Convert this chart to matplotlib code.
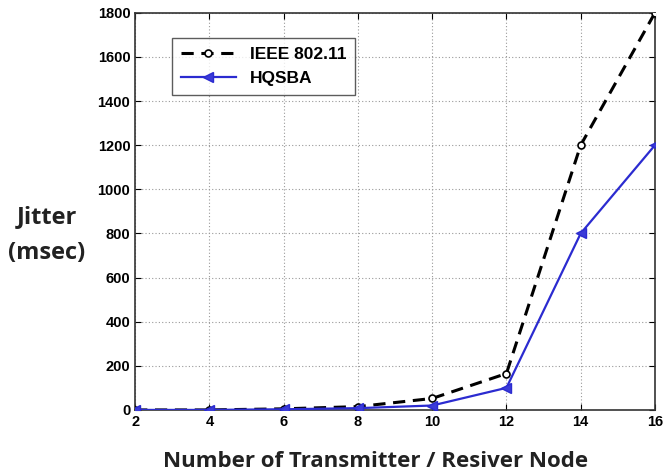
import matplotlib
matplotlib.use("Agg")
import matplotlib.pyplot as plt

nodes = [2, 4, 6, 8, 10, 12, 14, 16]
ieee = [0, 0, 5, 15, 52, 165, 1200, 1800]
hqsba = [0, 0, 3, 8, 20, 100, 800, 1200]
xticks = [2, 4, 6, 8, 10, 12, 14, 16]
yticks = list(range(0, 1801, 200))

fig = plt.figure(figsize=(6.69, 4.75), dpi=100)
ax = fig.add_axes([0.202, 0.137, 0.777, 0.836])

ax.plot(nodes, ieee, color="black", linestyle=(0, (4, 2.5)), linewidth=2.2,
        marker="o", markersize=5, markerfacecolor="white", markeredgecolor="black",
        markeredgewidth=1.2, label="IEEE 802.11", zorder=3)
ax.plot(nodes, hqsba, color="#2b2bd0", linestyle="-", linewidth=1.6,
        marker="<", markersize=7, markerfacecolor="#3b3bd8", markeredgecolor="#2b2bd0",
        label="HQSBA", zorder=3)

ax.set_xlim(2, 16)
ax.set_ylim(0, 1800)
ax.set_xticks(xticks)
ax.set_yticks(yticks)
ax.grid(True, linestyle=(0, (1, 2)), color="#999999", linewidth=0.8)
ax.tick_params(direction="in", length=4, labelsize=10.5, top=True, right=True)
for lab in ax.get_xticklabels() + ax.get_yticklabels():
    lab.set_fontfamily("Liberation Sans")
    lab.set_fontweight("bold")
for s in ax.spines.values():
    s.set_linewidth(1.2)
    s.set_color("#333333")

fig.text(0.561, 0.028, "Number of Transmitter / Resiver Node", ha="center", va="center",
         fontsize=16, fontfamily="Open Sans", fontweight="bold", color="#222222")
fig.text(0.07, 0.505, "Jitter\n(msec)", ha="center", va="center", fontsize=17,
         fontfamily="Open Sans", fontweight="bold", color="#222222", linespacing=1.65)

leg = ax.legend(loc="upper left", bbox_to_anchor=(0.054, 0.958), frameon=True,
                fancybox=False, edgecolor="#333333", handlelength=3.2,
                borderpad=0.5, labelspacing=0.5,
                prop={"family": "Liberation Sans", "weight": "bold", "size": 12.5})
leg.get_frame().set_linewidth(1.0)

fig.savefig("out.png", dpi=100)
